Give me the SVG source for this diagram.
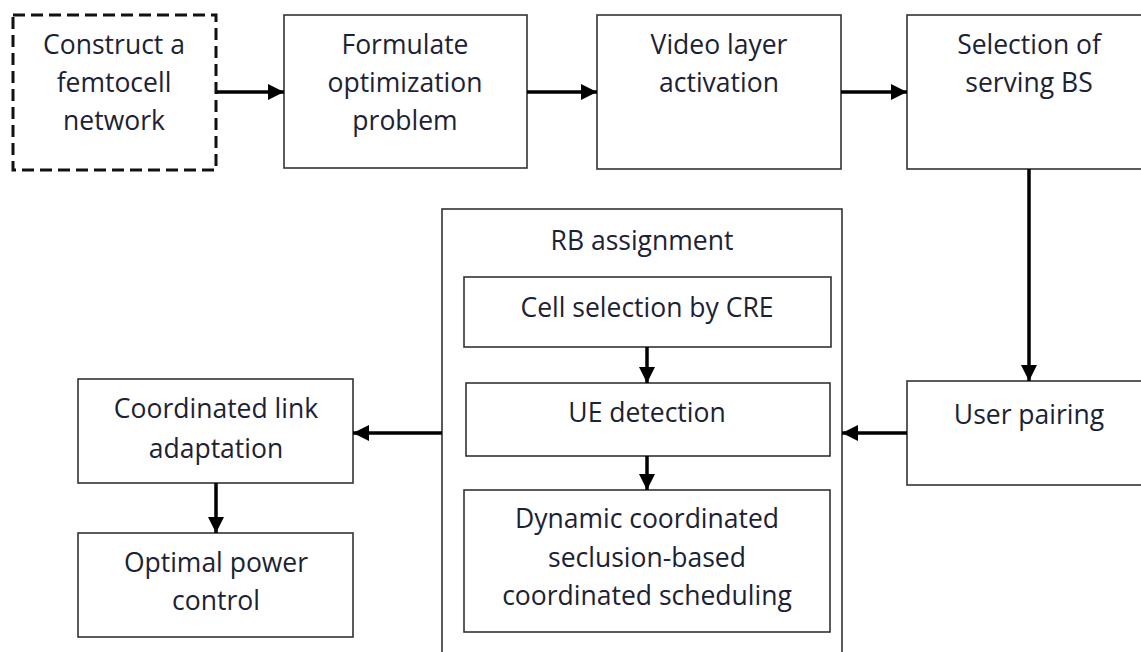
<svg xmlns="http://www.w3.org/2000/svg" width="1141" height="652" viewBox="0 0 1141 652">
<defs>
<style>
.box{fill:#fff;stroke:#333;stroke-width:1.6}
.dash{fill:#fff;stroke:#111;stroke-width:3;stroke-dasharray:12 6}
.t{font-family:"Open Sans","Liberation Sans",sans-serif;font-size:26.5px;fill:#1c2233;text-anchor:middle}
.c{fill:none;stroke:#000;stroke-width:3.5}
</style>
<marker id="ah" markerUnits="userSpaceOnUse" markerWidth="18" markerHeight="18" viewBox="0 0 18 18" refX="17" refY="9" orient="auto">
<path d="M1,1 L17,9 L1,17 Z" fill="#000"/>
</marker>
</defs>
<rect width="1141" height="652" fill="#fff"/>
<g id="n1"><rect class="dash" x="13" y="15" width="203" height="155"/>
<text class="t" x="114" y="54">Construct a</text><text class="t" x="114" y="92">femtocell</text><text class="t" x="114" y="130">network</text></g>
<g id="n2"><rect class="box" x="284" y="15" width="243" height="153"/>
<text class="t" x="405" y="54">Formulate</text><text class="t" x="405" y="92">optimization</text><text class="t" x="405" y="130">problem</text></g>
<g id="n3"><rect class="box" x="597" y="15" width="244" height="154"/>
<text class="t" x="719" y="54">Video layer</text><text class="t" x="719" y="92">activation</text></g>
<g id="n4"><rect class="box" x="907" y="15" width="240" height="154"/>
<text class="t" x="1029" y="54">Selection of</text><text class="t" x="1029" y="92">serving BS</text></g>
<g id="n5"><rect class="box" x="907" y="381" width="240" height="104"/>
<text class="t" x="1029" y="424">User pairing</text></g>
<g id="n6"><rect class="box" x="442" y="209" width="400" height="450"/>
<text class="t" x="642" y="250">RB assignment</text></g>
<g id="n7"><rect class="box" x="464" y="277" width="367" height="70"/>
<text class="t" x="647" y="317">Cell selection by CRE</text></g>
<g id="n8"><rect class="box" x="466" y="383" width="364" height="73"/>
<text class="t" x="647" y="422">UE detection</text></g>
<g id="n9"><rect class="box" x="464" y="490" width="366" height="142"/>
<text class="t" x="647" y="528">Dynamic coordinated</text><text class="t" x="647" y="567">seclusion-based</text><text class="t" x="647" y="605">coordinated scheduling</text></g>
<g id="n10"><rect class="box" x="78" y="379" width="275" height="104"/>
<text class="t" x="216" y="418">Coordinated link</text><text class="t" x="216" y="458">adaptation</text></g>
<g id="n11"><rect class="box" x="78" y="533" width="275" height="104"/>
<text class="t" x="216" y="572">Optimal power</text><text class="t" x="216" y="610">control</text></g>
<g id="connectors">
<line class="c" x1="217" y1="92" x2="284" y2="92" marker-end="url(#ah)"/>
<line class="c" x1="527" y1="92" x2="597" y2="92" marker-end="url(#ah)"/>
<line class="c" x1="841" y1="92" x2="907" y2="92" marker-end="url(#ah)"/>
<line class="c" x1="1029" y1="169" x2="1029" y2="381" stroke-width="4.5" marker-end="url(#ah)"/>
<line class="c" x1="907" y1="433" x2="842" y2="433" marker-end="url(#ah)"/>
<line class="c" x1="442" y1="433" x2="353" y2="433" marker-end="url(#ah)"/>
<line class="c" x1="647" y1="347" x2="647" y2="383" marker-end="url(#ah)"/>
<line class="c" x1="647" y1="456" x2="647" y2="490" marker-end="url(#ah)"/>
<line class="c" x1="216" y1="483" x2="216" y2="533" marker-end="url(#ah)"/>
</g>
</svg>
